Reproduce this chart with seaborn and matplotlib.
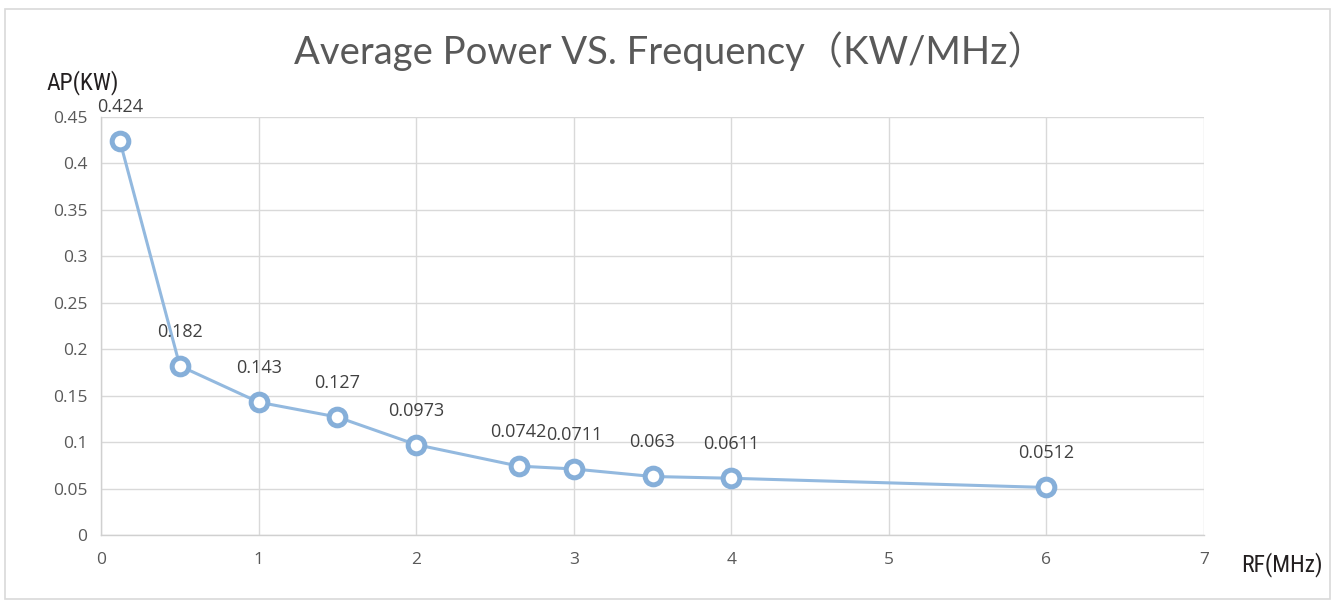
import matplotlib
matplotlib.use("Agg")
import matplotlib.pyplot as plt
import seaborn as sns
import pandas as pd
from matplotlib.patches import Rectangle
from matplotlib import font_manager

# Data
rf_mhz = [0.12, 0.5, 1, 1.5, 2, 2.65, 3, 3.5, 4, 6]
ap_kw = [0.424, 0.182, 0.143, 0.127, 0.0973, 0.0742, 0.0711, 0.063, 0.0611, 0.0512]
point_labels = ["0.424", "0.182", "0.143", "0.127", "0.0973", "0.0742", "0.0711", "0.063", "0.0611", "0.0512"]
x_ticks = [0, 1, 2, 3, 4, 5, 6, 7]
y_ticks = [0, 0.05, 0.1, 0.15, 0.2, 0.25, 0.3, 0.35, 0.4, 0.45]
y_tick_labels = ["0", "0.05", "0.1", "0.15", "0.2", "0.25", "0.3", "0.35", "0.4", "0.45"]

sns.set_theme(style="white")
plt.rcParams['font.family'] = ['Open Sans', 'DejaVu Sans']

df = pd.DataFrame({"RF": rf_mhz, "AP": ap_kw})

fig = plt.figure(figsize=(13.35, 6.04), dpi=100)
ax = fig.add_axes([0.0757, 0.1142, 0.8262, 0.6921])

line_color = "#93b9df"
sns.lineplot(data=df, x="RF", y="AP", ax=ax, color=line_color, linewidth=2.2,
             marker="o", markersize=12, markerfacecolor="white",
             markeredgecolor="#86afd9", markeredgewidth=3.6, zorder=3)

ax.set_xlim(0, 7)
ax.set_ylim(0, 0.45)
ax.set_xticks(x_ticks)
ax.set_yticks(y_ticks)
ax.set_yticklabels(y_tick_labels)
ax.grid(True, color="#d9d9d9", linewidth=1.0)
ax.set_axisbelow(True)
for s in ["top", "right"]:
    ax.spines[s].set_visible(False)
for s in ["left", "bottom"]:
    ax.spines[s].set_color("#d0d0d0")
    ax.spines[s].set_linewidth(1.0)
ax.tick_params(axis="both", colors="#595959", labelsize=12.5, length=0)
ax.tick_params(axis="x", pad=12)
ax.tick_params(axis="y", pad=10)
ax.set_xlabel("")
ax.set_ylabel("")

# data labels
for xv, yv, lab in zip(rf_mhz, ap_kw, point_labels):
    ax.annotate(lab, (xv, yv), xytext=(0, 18), textcoords="offset points",
                ha="center", va="bottom", fontsize=13, color="#404040")

# pick a condensed face if one is installed
names = {f.name for f in font_manager.fontManager.ttflist}
narrow_candidates = ['Liberation Sans Narrow', 'DejaVu Sans Condensed', 'Roboto Condensed',
                     'Open Sans Condensed']
narrow_name = next((n for n in narrow_candidates if n in names), None)
if narrow_name is None:
    narrow_family = ['DejaVu Sans']
    lab_size = 16
else:
    narrow_family = [narrow_name, 'DejaVu Sans']
    lab_size = 17

fig.text(0.0345, 0.842, "AP(KW)", fontsize=lab_size, color="#231f20", family=narrow_family,
         fontstretch='condensed', ha="left", va="bottom")
fig.text(0.930, 0.066, "RF(MHz)", fontsize=lab_size, color="#231f20", family=narrow_family,
         fontstretch='condensed', ha="left", va="center")

fig.text(0.502, 0.915, "Average Power VS. Frequency\uff08KW/MHz\uff09", fontsize=27.5,
         color="#595959", ha="center", va="center",
         family=['Lato', 'Noto Sans CJK SC', 'DejaVu Sans'])

# outer chart border
fig.patches.append(Rectangle((0.004, 0.008), 0.992, 0.977, transform=fig.transFigure,
                             fill=False, edgecolor="#d9d9d9", linewidth=1.2))

fig.savefig("out.png", dpi=100)
